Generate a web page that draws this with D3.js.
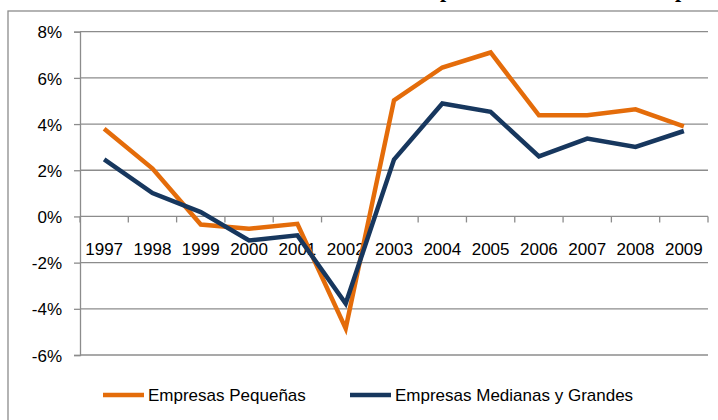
<!DOCTYPE html>
<html>
<head>
<meta charset="utf-8">
<script src="https://cdn.jsdelivr.net/npm/d3@7"></script>
<style>
  body { margin: 0; background: #fff; }
  svg { display: block; }
  .axis text { font-family: "Liberation Sans", Arial, sans-serif; font-size: 17px; fill: #000; }
</style>
</head>
<body>
<div id="chart"></div>
<script>
var YEARS = ["1997", "1998", "1999", "2000", "2001", "2002", "2003", "2004", "2005", "2006", "2007", "2008", "2009"];
var PEQUENAS = [3.80, 2.07, -0.35, -0.53, -0.32, -4.85, 5.03, 6.45, 7.10, 4.38, 4.38, 4.64, 3.90];
var MEDIANAS = [2.47, 1.01, 0.19, -1.04, -0.82, -3.77, 2.46, 4.89, 4.53, 2.60, 3.37, 3.01, 3.70];
var Y_TICKS = [-6, -4, -2, 0, 2, 4, 6, 8];
var SERIES_NAMES = ["Empresas Pequeñas", "Empresas Medianas y Grandes"];
var TITLE = "Rentabilidad de las Empresas Chicas versus Empresas Medianas";

function LineChart(sParentId) {
  var W = 718, H = 420;
  var PLOT = {left: 80, right: 708, top: 31.7, bottom: 355};
  var COLORS = ["#E46C0A", "#17375E"];
  var GRID = "#8C8C8C";

  var oSvg = d3.select("#" + sParentId).append("svg")
    .attr("width", W).attr("height", H);

  // title sits above the top edge, only descenders show (as in the source)
  var oTitle = oSvg.append("text")
    .attr("font-family", "'Liberation Serif', 'Times New Roman', serif")
    .attr("font-weight", "bold")
    .attr("font-size", 24)
    .attr("y", -3)
    .text(TITLE);
  var iP1 = TITLE.indexOf("p"), iP2 = TITLE.lastIndexOf("p");
  var oNode = oTitle.node();
  var fGap = oNode.getStartPositionOfChar(iP2).x - oNode.getStartPositionOfChar(iP1).x;
  oTitle.attr("font-size", 24 * 235 / fGap);
  oTitle.attr("x", 440 - oNode.getStartPositionOfChar(iP1).x);

  // chart frame
  oSvg.append("rect")
    .attr("x", 8).attr("y", 11)
    .attr("width", 740).attr("height", 440)
    .attr("fill", "none").attr("stroke", GRID).attr("stroke-width", 1.3);

  var x = d3.scaleBand().domain(YEARS).range([PLOT.left, PLOT.right]).padding(0);
  var y = d3.scaleLinear().domain([-6, 8]).range([PLOT.bottom, PLOT.top]);

  // y axis
  var gy = oSvg.append("g")
    .attr("class", "axis")
    .attr("transform", "translate(" + PLOT.left + ",0)")
    .call(d3.axisLeft(y)
      .tickValues(Y_TICKS)
      .tickSize(6)
      .tickPadding(12)
      .tickFormat(function(d) { return d + "%"; }));
  gy.select(".domain").attr("stroke", GRID).attr("stroke-width", 1.3);
  gy.selectAll(".tick line").attr("stroke", GRID).attr("stroke-width", 1.3);
  gy.selectAll(".tick text").attr("dy", "0.36em");

  // horizontal gridlines
  oSvg.append("g").selectAll("line")
    .data(Y_TICKS)
    .enter().append("line")
    .attr("x1", PLOT.left).attr("x2", PLOT.right)
    .attr("y1", function(d) { return y(d); })
    .attr("y2", function(d) { return y(d); })
    .attr("stroke", GRID).attr("stroke-width", 1.3);

  // category axis at 0%
  var aEdges = YEARS.map(function(s) { return x(s); }).concat([PLOT.right]);
  oSvg.append("g").selectAll("line")
    .data(aEdges)
    .enter().append("line")
    .attr("x1", function(d) { return d; }).attr("x2", function(d) { return d; })
    .attr("y1", y(0)).attr("y2", y(0) + 6)
    .attr("stroke", GRID).attr("stroke-width", 1.3);

  oSvg.append("g").attr("class", "axis").selectAll("text")
    .data(YEARS)
    .enter().append("text")
    .attr("x", function(d) { return x(d) + x.bandwidth() / 2; })
    .attr("y", 255)
    .attr("text-anchor", "middle")
    .text(function(d) { return d; });

  // lines
  var line = d3.line()
    .x(function(d) { return x(d.year) + x.bandwidth() / 2; })
    .y(function(d) { return y(d.value); });

  [PEQUENAS, MEDIANAS].forEach(function(aValues, i) {
    var aPts = aValues.map(function(v, j) { return {year: YEARS[j], value: v}; });
    oSvg.append("path")
      .datum(aPts)
      .attr("d", line)
      .attr("fill", "none")
      .attr("stroke", COLORS[i])
      .attr("stroke-width", 4.5)
      .attr("stroke-linejoin", "miter");
  });

  // legend
  var aLegend = [{x: 103, name: SERIES_NAMES[0]}, {x: 350, name: SERIES_NAMES[1]}];
  var gl = oSvg.append("g").attr("class", "axis");
  aLegend.forEach(function(o, i) {
    gl.append("line")
      .attr("x1", o.x).attr("x2", o.x + 41)
      .attr("y1", 395).attr("y2", 395)
      .attr("stroke", COLORS[i]).attr("stroke-width", 4.5);
    gl.append("text")
      .attr("x", o.x + 45).attr("y", 401)
      .text(o.name);
  });
}

LineChart("chart");
</script>
</body>
</html>
